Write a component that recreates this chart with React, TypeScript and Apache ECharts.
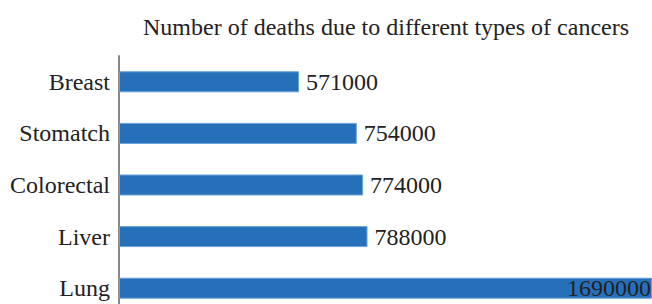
import React, { useEffect, useRef } from "react";
import * as echarts from "echarts";

const categories = ["Breast", "Stomatch", "Colorectal", "Liver", "Lung"];
const deaths = [571000, 754000, 774000, 788000, 1690000];
const titleText = "Number of deaths due to different types of cancers";

export default function App() {
  const ref = useRef<HTMLDivElement>(null);
  useEffect(() => {
    document.body.style.margin = "0";
    if (!ref.current) return;
    const chart = echarts.init(ref.current, null, { renderer: "svg" });
    const font = "'Liberation Serif', 'Times New Roman', serif";
    chart.setOption({
      animation: false,
      title: {
        text: titleText,
        left: 138,
        top: 10,
        textStyle: { fontFamily: font, fontSize: 24, fontWeight: "normal", color: "#222" },
      },
      grid: {
        left: 119,
        width: 533,
        top: 56,
        height: 258,
        containLabel: false,
        outerBoundsMode: "none",
      },
      xAxis: {
        type: "value",
        min: 0,
        max: 1690000,
        show: false,
      },
      yAxis: {
        type: "category",
        data: categories,
        inverse: true,
        axisLine: { show: true, lineStyle: { color: "#888", width: 2 } },
        axisTick: { show: false },
        axisLabel: { fontFamily: font, fontSize: 24, color: "#222", margin: 9 },
      },
      series: [
        {
          type: "bar",
          barWidth: 21,
          data: deaths.map((v, i) =>
            i === deaths.length - 1
              ? { value: v, label: { position: "insideRight", distance: 1 } }
              : v
          ),
          itemStyle: { color: "#2670ba", borderColor: "#6aa3d8", borderWidth: 1 },
          label: {
            show: true,
            position: "right",
            distance: 7,
            fontFamily: font,
            fontSize: 24,
            color: "#222",
          },
        },
      ],
    });
    return () => chart.dispose();
  }, []);
  return <div ref={ref} style={{ width: 652, height: 304 }} />;
}
